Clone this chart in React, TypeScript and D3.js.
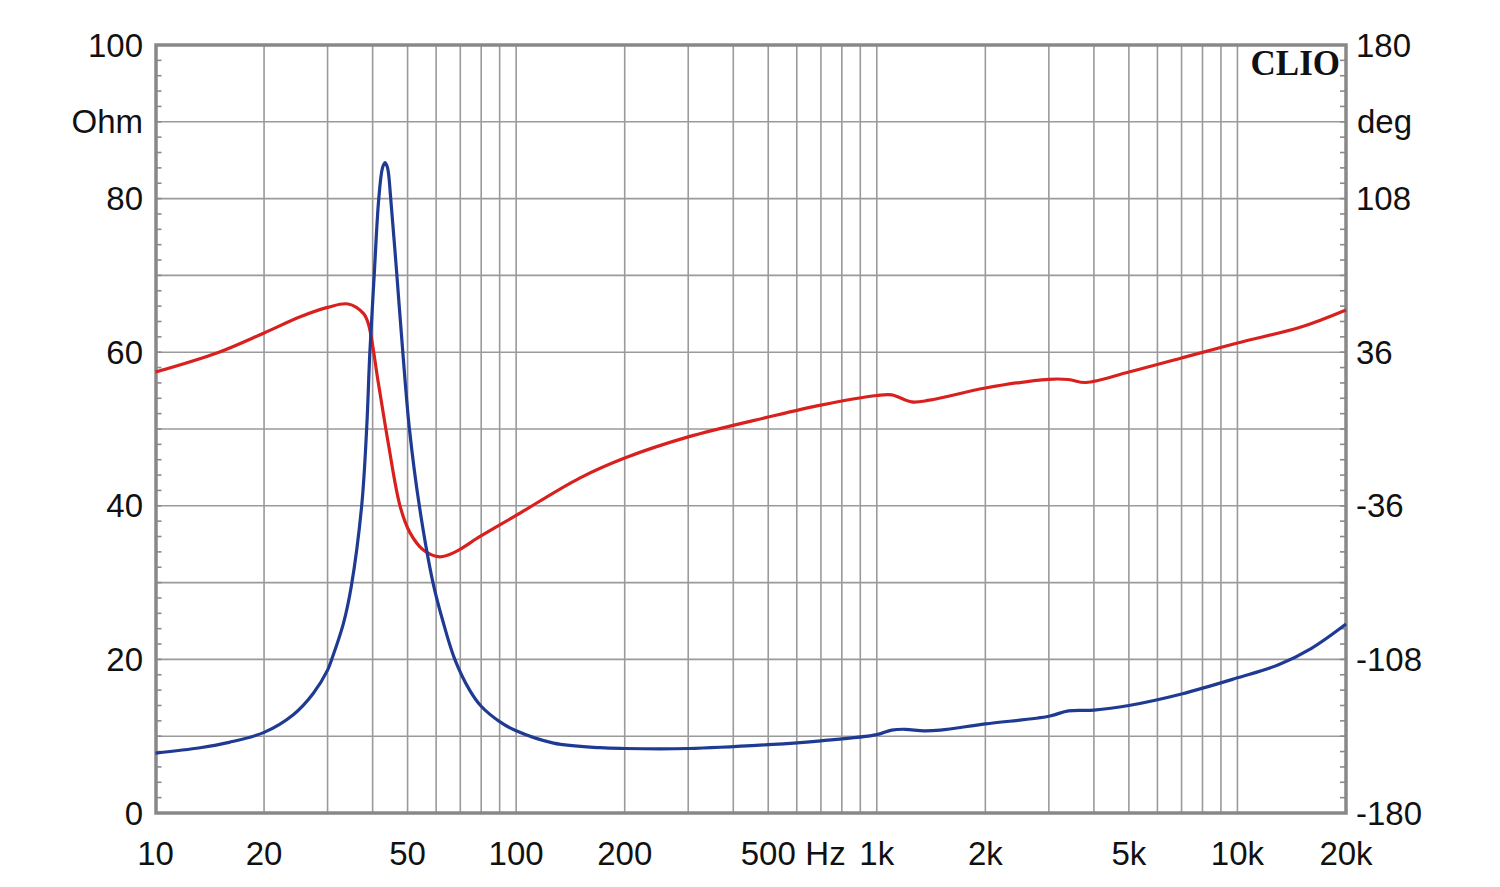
import React from "react";
import * as d3 from "d3";

const freqTicks = [10, 20, 50, 100, 200, 500, 1000, 2000, 5000, 10000, 20000];
const freqTickLabels = ["10", "20", "50", "100", "200", "500", "1k", "2k", "5k", "10k", "20k"];
const ohmTicks = [0, 20, 40, 60, 80, 100];
const degTickLabels = ["-180", "-108", "-36", "36", "108", "180"];

const impFreq = [10, 13.3, 16, 20, 24.1, 27.4, 30, 30.8, 33.2, 34.9, 37.3, 38.5, 39.3, 40.4, 41.6, 42.6, 43.3, 44, 44.9, 46.7, 48.5, 50.6, 53.9, 58.8, 62.8, 67.6, 74.3, 80, 90, 100, 127, 171, 200, 300, 500, 700, 1000, 1100, 1200, 1350, 1500, 2000, 3000, 3400, 4000, 5000, 7000, 10000, 13000, 16000, 20000];
const impOhm = [7.8, 8.5, 9.2, 10.5, 12.8, 15.6, 18.6, 20, 24.7, 29.5, 40, 50, 60, 70, 80, 84, 84.7, 84, 80, 70, 60, 50, 40, 30, 24.8, 20, 16, 13.9, 11.9, 10.7, 9.1, 8.5, 8.4, 8.4, 8.9, 9.4, 10.2, 10.8, 10.9, 10.7, 10.8, 11.6, 12.6, 13.3, 13.4, 14.0, 15.5, 17.6, 19.3, 21.4, 24.6];

const phFreq = [10, 15, 20, 25.2, 30, 34.2, 37.7, 38.9, 41.5, 44.2, 47.7, 50.8, 55.3, 61.4, 68, 79.2, 100, 150, 200, 300, 500, 700, 1000, 1100, 1250, 1400, 2000, 3000, 3400, 3800, 5000, 7000, 10000, 15000, 20000];
const phDeg = [26.7, 36, 45, 52.6, 57, 58.6, 54.2, 49.5, 21.4, -6.7, -36.4, -48.7, -56.7, -59.9, -57.5, -50.5, -40.5, -23, -13.6, -3.7, 5.6, 11.2, 15.7, 16, 12.7, 13.5, 19.2, 23.3, 23.2, 21.8, 26.7, 33.3, 40.3, 47.8, 55.8];

const W = 1500, H = 887;
const L = 155.5, R = 1346, T = 45, B = 813;
const FONT = "'Liberation Sans', Arial, sans-serif";
const FS = 33;

export default function App() {
  const x = d3.scaleLog().domain([10, 20000]).range([L, R]);
  const yO = d3.scaleLinear().domain([0, 100]).range([B, T]);
  const yD = d3.scaleLinear().domain([-180, 180]).range([B, T]);

  const vGrid: number[] = [];
  for (let dec = 10; dec <= 10000; dec *= 10) {
    for (let m = 1; m <= 9; m++) {
      const f = dec * m;
      if (f > 10 && f < 20000) vGrid.push(f);
    }
  }
  const hGrid = d3.range(10, 100, 10);
  const smallTicks = d3.range(2, 100, 2);

  const impLine = d3.line<number>()
    .x((_, i) => x(impFreq[i]))
    .y((d) => yO(d))
    .curve(d3.curveCatmullRom.alpha(0.5))(impOhm) || "";
  const phLine = d3.line<number>()
    .x((_, i) => x(phFreq[i]))
    .y((d) => yD(d))
    .curve(d3.curveCatmullRom.alpha(0.5))(phDeg) || "";

  return (
    <svg width={W} height={H} style={{ display: "block", position: "absolute", left: 0, top: 0, background: "#fff" }}>
      <rect x={0} y={0} width={W} height={H} fill="#fff" />
      {vGrid.map((f) => (
        <line key={"v" + f} x1={x(f)} x2={x(f)} y1={T} y2={B} stroke="#9a9a9a" strokeWidth={1.6} />
      ))}
      {hGrid.map((v) => (
        <line key={"h" + v} x1={L} x2={R} y1={yO(v)} y2={yO(v)} stroke="#9a9a9a" strokeWidth={1.6} />
      ))}
      {smallTicks.map((v) => (
        <g key={"t" + v}>
          <line x1={L} x2={L + 6} y1={yO(v)} y2={yO(v)} stroke="#8a8a8a" strokeWidth={1.6} />
          <line x1={R - 6} x2={R} y1={yO(v)} y2={yO(v)} stroke="#8a8a8a" strokeWidth={1.6} />
        </g>
      ))}
      <rect x={L + 0.5} y={T} width={R - L - 0.5} height={B - T} fill="none" stroke="#888" strokeWidth={3.5} />
      <path d={phLine} fill="none" stroke="#d8201e" strokeWidth={3.2} strokeLinejoin="round" />
      <path d={impLine} fill="none" stroke="#1f3a93" strokeWidth={3.2} strokeLinejoin="round" />
      {ohmTicks.map((v) => (
        <text key={"lo" + v} x={143} y={yO(v)} dy="0.35em" textAnchor="end" fontFamily={FONT} fontSize={FS} fill="#111">{v}</text>
      ))}
      <text x={143} y={yO(90)} dy="0.35em" textAnchor="end" fontFamily={FONT} fontSize={FS} fill="#111">Ohm</text>
      {degTickLabels.map((s, i) => (
        <text key={"rd" + s} x={1356} y={yO(i * 20)} dy="0.35em" textAnchor="start" fontFamily={FONT} fontSize={FS} fill="#111">{s}</text>
      ))}
      <text x={1357} y={yO(90)} dy="0.35em" textAnchor="start" fontFamily={FONT} fontSize={FS} fill="#111">deg</text>
      {freqTicks.map((f, i) => (
        <text key={"b" + f} x={x(f)} y={853} dy="0.35em" textAnchor="middle" fontFamily={FONT} fontSize={FS} fill="#111">{freqTickLabels[i]}</text>
      ))}
      <text x={(x(500) + x(1000)) / 2 + 3} y={853} dy="0.35em" textAnchor="middle" fontFamily={FONT} fontSize={FS} fill="#111">Hz</text>
      <text x={1340} y={63} dy="0.35em" textAnchor="end" fontFamily="'Liberation Serif', 'Times New Roman', serif" fontWeight="bold" fontSize={35} fill="#111">CLIO</text>
    </svg>
  );
}
